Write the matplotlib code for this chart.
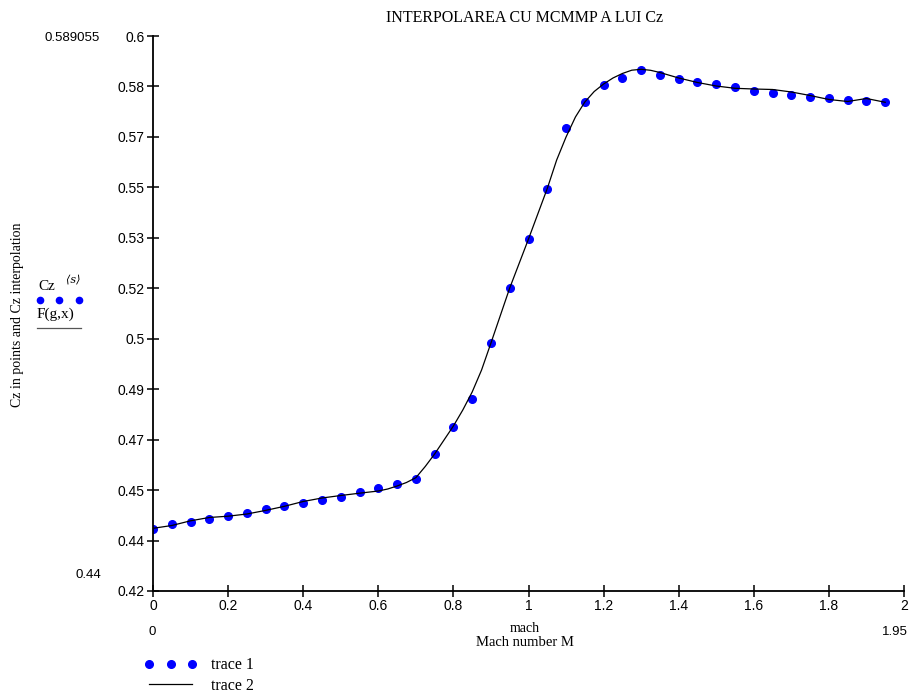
import matplotlib
matplotlib.use("Agg")
import matplotlib.pyplot as plt
from matplotlib.lines import Line2D

# measured points Cz<s> (trace 1)
mach = [0.00, 0.05, 0.10, 0.15, 0.20, 0.25, 0.30, 0.35, 0.40, 0.45,
        0.50, 0.55, 0.60, 0.65, 0.70, 0.75, 0.80, 0.85, 0.90, 0.95,
        1.00, 1.05, 1.10, 1.15, 1.20, 1.25, 1.30, 1.35, 1.40, 1.45,
        1.50, 1.55, 1.60, 1.65, 1.70, 1.75, 1.80, 1.85, 1.90, 1.95]
cz = [0.44000, 0.44163, 0.44228, 0.44335, 0.44423, 0.44539, 0.44659, 0.44747, 0.44864, 0.44941,
      0.45039, 0.45201, 0.45350, 0.45470, 0.45623, 0.46443, 0.47335, 0.48227, 0.50043, 0.51827,
      0.53416, 0.55054, 0.57026, 0.57850, 0.58427, 0.58622, 0.58906, 0.58735, 0.58615, 0.58524,
      0.58433, 0.58356, 0.58226, 0.58161, 0.58086, 0.58031, 0.57979, 0.57924, 0.57892, 0.57850]

# least squares curve F(g,x) (trace 2)
fit_x = [0.00, 0.05, 0.10, 0.15, 0.20, 0.25, 0.30, 0.35, 0.40, 0.45,
         0.50, 0.55, 0.60, 0.625, 0.65, 0.675, 0.70, 0.725, 0.75, 0.775,
         0.80, 0.825, 0.85, 0.875, 0.90, 0.95, 1.00, 1.05, 1.075, 1.10,
         1.125, 1.15, 1.175, 1.20, 1.225, 1.25, 1.275, 1.30, 1.325, 1.35,
         1.40, 1.45, 1.50, 1.55, 1.60, 1.65, 1.70, 1.75, 1.80, 1.85,
         1.90, 1.95]
fit_y = [0.44033, 0.44124, 0.44277, 0.44384, 0.44426, 0.44497, 0.44614, 0.44747, 0.44903, 0.45016,
         0.45097, 0.45172, 0.45243, 0.45308, 0.45405, 0.45519, 0.45674, 0.46038, 0.46443, 0.46897,
         0.47351, 0.47870, 0.48454, 0.49167, 0.50043, 0.51827, 0.53416, 0.55054, 0.55978, 0.56724,
         0.57373, 0.57859, 0.58200, 0.58443, 0.58638, 0.58784, 0.58891, 0.58920, 0.58888, 0.58816,
         0.58638, 0.58492, 0.58378, 0.58304, 0.58281, 0.58265, 0.58184, 0.58070, 0.57941, 0.57876,
         0.57973, 0.57850]

x_ticks = [0, 0.2, 0.4, 0.6, 0.8, 1.0, 1.2, 1.4, 1.6, 1.8, 2.0]
x_labels = ["0", "0.2", "0.4", "0.6", "0.8", "1", "1.2", "1.4", "1.6", "1.8", "2"]
y_labels = ["0.42", "0.44", "0.45", "0.47", "0.49", "0.5",
            "0.52", "0.53", "0.55", "0.57", "0.58", "0.6"]
y_lo, y_hi = 0.42, 0.6

serif = "Liberation Serif"
sans = "Liberation Sans"

fig = plt.figure(figsize=(9.17, 6.93), dpi=100)
ax = fig.add_axes([153 / 917, 102 / 693, 751 / 917, 555 / 693])

ax.plot(fit_x, fit_y, color="black", lw=0.9, label="trace 2", zorder=3)
ax.plot(mach, cz, ls="none", marker="o", ms=5.5, color="#0000ff",
        mec="#0000ff", label="trace 1", zorder=2)

ax.set_xlim(0, 2)
ax.set_ylim(y_lo, y_hi)
ax.set_xticks(x_ticks)
ax.set_xticklabels(x_labels)
step = (y_hi - y_lo) / (len(y_labels) - 1)
ax.set_yticks([y_lo + i * step for i in range(len(y_labels))])
ax.set_yticklabels(y_labels)
for s in ["top", "right"]:
    ax.spines[s].set_visible(False)
for s in ["left", "bottom"]:
    ax.spines[s].set_linewidth(1.3)
    ax.spines[s].set_color("black")
ax.tick_params(direction="inout", length=8, width=1.1, labelsize=10, pad=2)
for lab in ax.get_xticklabels() + ax.get_yticklabels():
    lab.set_family(sans)

# title and axis texts
fig.text(525 / 917, 1 - 18 / 693, "INTERPOLAREA CU MCMMP A LUI Cz", ha="center",
         va="center", family=serif, fontsize=11.5)
fig.text(18 / 917, 1 - 315 / 693, "Cz in points and Cz interpolation", rotation=90,
         ha="center", va="center", family=serif, fontsize=10)
fig.text(525 / 917, 1 - 628 / 693, "mach", ha="center", va="center", family=serif, fontsize=10)
fig.text(525 / 917, 1 - 642 / 693, "Mach number M", ha="center", va="center",
         family=serif, fontsize=10.5)

# range labels
fig.text(72 / 917, 1 - 38 / 693, "0.589055", ha="center", va="center", family=sans, fontsize=9.5)
fig.text(88 / 917, 1 - 575 / 693, "0.44", ha="center", va="center", family=sans, fontsize=9.5)
fig.text(152 / 917, 1 - 632 / 693, "0", ha="center", va="center", family=sans, fontsize=9.5)
fig.text(895 / 917, 1 - 632 / 693, "1.95", ha="center", va="center", family=sans, fontsize=9.5)

# left side trace names
fig.text(38 / 917, 1 - 286 / 693, "Cz", ha="left", va="center", family=serif, fontsize=11)
fig.text(66 / 917, 1 - 280 / 693, "\u27e8s\u27e9", ha="left", va="center",
         family=["DejaVu Serif"], fontsize=8, style="italic")
fig.add_artist(Line2D([40 / 917, 59 / 917, 79 / 917], [1 - 300 / 693] * 3,
                      ls="none", marker="o", ms=4.5, color="#0000ff",
                      transform=fig.transFigure))
fig.text(37 / 917, 1 - 314 / 693, "F(g,x)", ha="left", va="center", family=serif, fontsize=11)
fig.add_artist(Line2D([37 / 917, 81 / 917], [1 - 328 / 693] * 2, color="#555555",
                      lw=0.9, transform=fig.transFigure))

# bottom legend
handles, labels = ax.get_legend_handles_labels()
leg = fig.legend(handles[::-1], labels[::-1], loc="upper left",
                 bbox_to_anchor=(133 / 917, 1 - 646 / 693), frameon=False,
                 numpoints=3, handlelength=3.3, handletextpad=0.9,
                 labelspacing=0.3, borderpad=0.2, prop={"family": serif, "size": 11.5})

fig.savefig("out.png", dpi=100)
